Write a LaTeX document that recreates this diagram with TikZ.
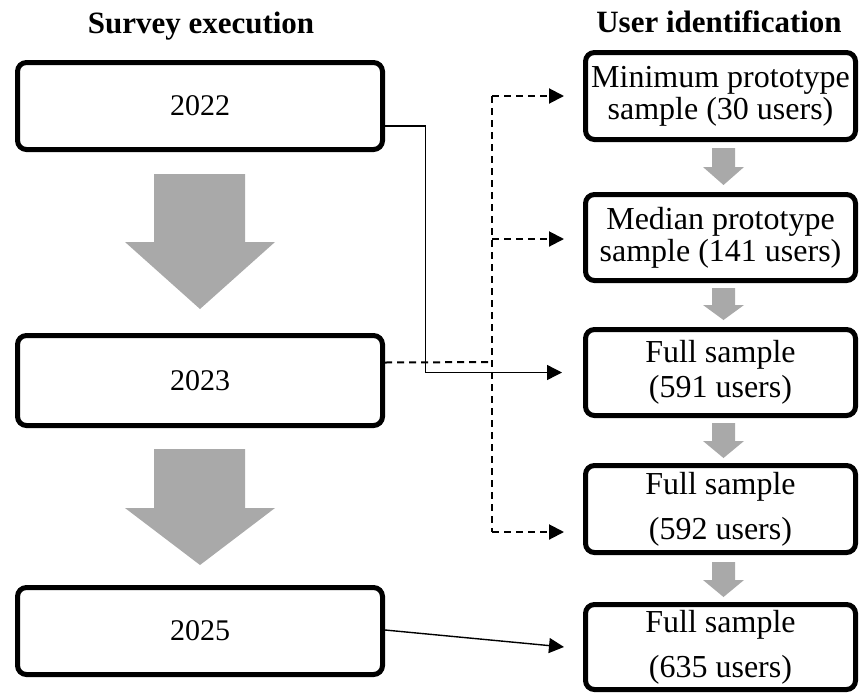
\documentclass[tikz,border=0pt]{standalone}
\usepackage{fontspec}
\setmainfont{Liberation Serif}
\usetikzlibrary{arrows.meta}
\definecolor{flowgray}{HTML}{A9A9A9}
\tikzset{
  yearbox/.style={draw=black, line width=5pt, rounded corners=9pt, fill=white,
    minimum width=365pt, minimum height=87pt, inner sep=0pt, align=center,
    font=\fontsize{30}{32}\selectfont},
  userbox/.style={draw=black, line width=5pt, rounded corners=9pt, fill=white,
    minimum width=270pt, minimum height=86pt, inner sep=0pt, align=center,
    font=\fontsize{32}{32}\selectfont},
  header/.style={anchor=base, font=\fontsize{31}{32}\selectfont\bfseries},
  link/.style={line width=1.4pt, -{Triangle[length=15pt,width=15pt]}},
  dashlink/.style={line width=2pt, dash pattern=on 7pt off 5pt},
  flowarrow/.style={fill=flowgray, draw=none},
}
\begin{document}
\begin{tikzpicture}[x=1pt, y=-1pt]
\useasboundingbox (0,0) rectangle (862,694);

% column headers
\node[header] (hsurvey) at (201,33) {Survey execution};
\node[header] (huser) at (719,32) {User identification};

% survey years
\node[yearbox] (y22) at (200,106) {2022};
\node[yearbox, minimum height=90pt] (y23) at (200,380.5) {2023};
\node[yearbox] (y25) at (200,631) {2025};

% identified user samples
\node[userbox, minimum height=87pt] (u1) at (720.5,96) {Minimum prototype\\sample (30 users)};
\node[userbox] (u2) at (720.5,237.5) {Median prototype\\sample (141 users)};
\node[userbox] (u3) at (720.5,372.5) {Full sample\\[3pt](591 users)};
\node[userbox, minimum height=87pt] (u4) at (720.5,509) {Full sample\\[13pt](592 users)};
\node[userbox, minimum height=85pt] (u5) at (720.5,647) {Full sample\\[13pt](635 users)};

% large block arrows between survey years
\fill[flowarrow] (154,174) -- (245,174) -- (245,242) -- (275,242) -- (200,309)
  -- (125,242) -- (154,242) -- cycle;
\fill[flowarrow] (154,449) -- (245,449) -- (245,508) -- (275,508) -- (200,565)
  -- (125,508) -- (154,508) -- cycle;

% small block arrows between user samples
\foreach \top/\neck/\tip in {148/167/185, 288/305/320, 423/441/458, 562/580/597}{
  \fill[flowarrow] (712,\top) -- (735,\top) -- (735,\neck) -- (744,\neck) -- (723.5,\tip)
    -- (703,\neck) -- (712,\neck) -- cycle;
}

% 2022 -> full sample (solid elbow)
\draw[link] ([yshift=-20pt]y22.east) -- ++(40.5,0) |- ([xshift=-21pt]u3.west);

% 2023 -> dashed distribution bus
\coordinate (jt) at (492,362);
\coordinate (u4in) at ([yshift=-23pt,xshift=-19pt]u4.west);
\draw[dashlink] ([yshift=18pt]y23.east) -- (jt);
\draw[dashlink] (jt |- u1.west) -- (jt |- u4in);
\draw[dashlink, -{Triangle[length=15pt,width=15pt]}] (jt |- u1.west) -- ([xshift=-19pt]u1.west);
\draw[dashlink, -{Triangle[length=15pt,width=15pt]}] ([yshift=-1.5pt]jt |- u2.west) -- ([yshift=-1.5pt,xshift=-19pt]u2.west);
\draw[dashlink, -{Triangle[length=15pt,width=15pt]}] (jt |- u4in) -- (u4in);

% 2025 -> full sample
\draw[link] ([yshift=1pt]y25.east) -- ([xshift=-19pt]u5.west);
\end{tikzpicture}
\end{document}
